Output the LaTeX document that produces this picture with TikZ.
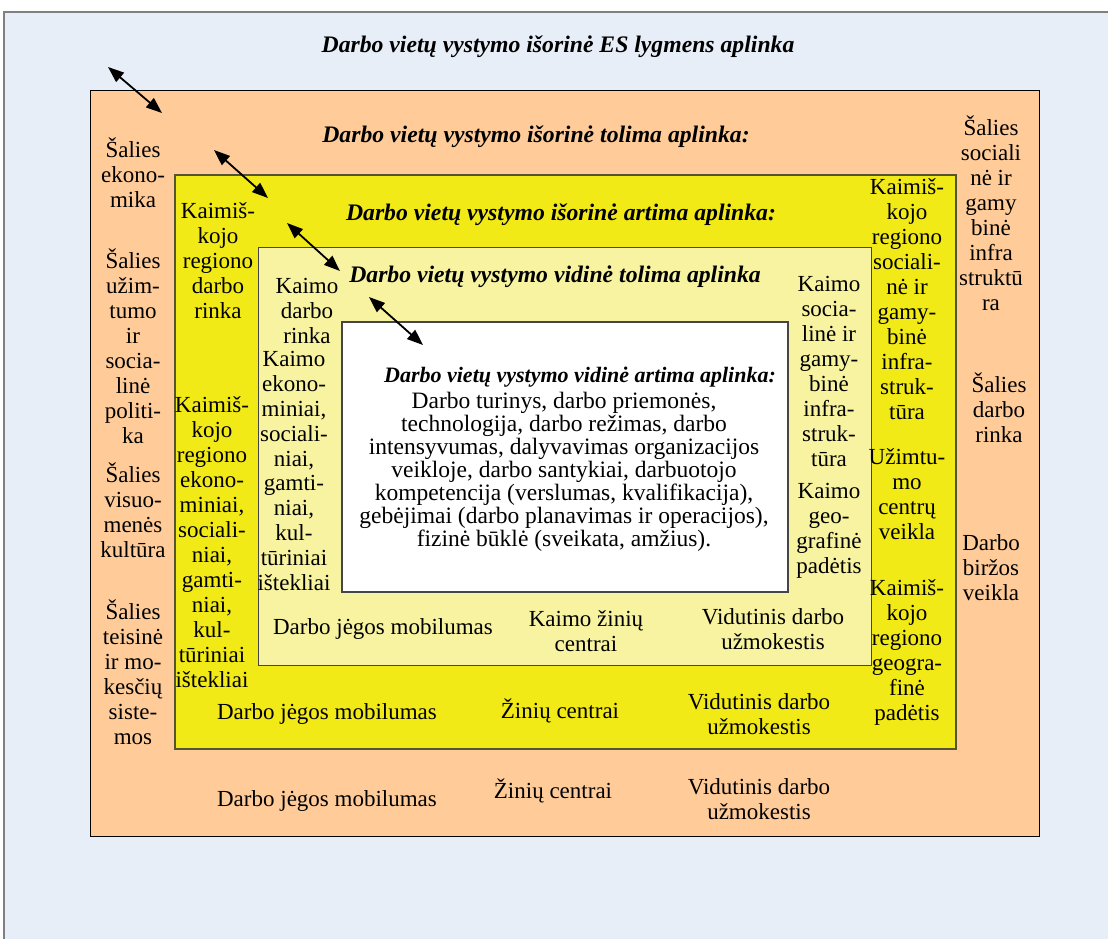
\documentclass[tikz,border=0pt]{standalone}
\usepackage{fontspec}
\setmainfont{Liberation Serif}
\usetikzlibrary{arrows.meta}
\definecolor{bgblue}{RGB}{232,238,247}
\definecolor{peach}{RGB}{255,204,153}
\definecolor{yel}{RGB}{242,234,22}
\definecolor{lyel}{RGB}{248,243,160}
\definecolor{frameg}{RGB}{128,128,128}
\definecolor{edgey}{RGB}{85,85,51}
\definecolor{edgeg}{RGB}{70,70,70}
\begin{document}
\begin{tikzpicture}[x=1pt,y=-1pt,
 txt/.style={align=center,inner sep=0pt,font=\fontsize{23}{25}\selectfont},
 ttl/.style={inner sep=0pt,font=\fontsize{23.7}{25}\selectfont\bfseries\itshape},
 dbl/.style={line width=1.8pt,{Triangle[length=16pt,width=12pt]}-{Triangle[length=16pt,width=12pt]}},
 zone/.style={inner sep=0pt,anchor=north west}]
\useasboundingbox (0,0) rectangle (1108,938);
\clip (0,0) rectangle (1108,938);
\fill[white] (0,0) rectangle (1108,938);
\draw[frameg,line width=2pt,fill=bgblue] (4,12) rectangle (1130,960);
% zones
\node (es) [zone,draw=black,line width=1.2pt,fill=peach,minimum width=949pt,minimum height=746pt] at (90,90) {};
\node (reg) [zone,draw=edgey,line width=1.5pt,fill=yel,minimum width=781pt,minimum height=574pt] at (174,174) {};
\node (kaim) [zone,draw=edgeg,line width=1.2pt,fill=lyel,minimum width=613pt,minimum height=418pt] at (258,247) {};
\node (vid) [zone,draw=edgeg,line width=2pt,fill=white,minimum width=446pt,minimum height=270pt] at (341,321) {};
% titles
\node (t1) [ttl] at (558,47) {Darbo vietų vystymo išorinė ES lygmens aplinka};
\node (t2) [ttl] at (536,137) {Darbo vietų vystymo išorinė tolima aplinka:};
\node (t3) [ttl] at (561,215) {Darbo vietų vystymo išorinė artima aplinka:};
\node (t4) [ttl] at (555,277) {Darbo vietų vystymo vidinė tolima aplinka};
\node (innert) [inner sep=0pt,font=\fontsize{22}{23}\selectfont\bfseries\itshape] at (580,377)
 {Darbo vietų vystymo vidinė artima aplinka:};
\node (inner) [align=center,inner sep=0pt,font=\fontsize{23.5}{23}\selectfont] at (564,472)
 {Darbo turinys, darbo priemonės,\\
 technologija, darbo režimas, darbo\\
 intensyvumas, dalyvavimas organizacijos\\
 veikloje, darbo santykiai, darbuotojo\\
 kompetencija (verslumas, kvalifikacija),\\
 gebėjimai (darbo planavimas ir operacijos),\\
 fizinė būklė (sveikata, amžius).};
% arrows
\coordinate (a1s) at (108,67); \coordinate (a1e) at (162,113);
\coordinate (a2s) at (214,150); \coordinate (a2e) at (268,198);
\coordinate (a3s) at (287,223); \coordinate (a3e) at (340,271);
\coordinate (a4s) at (369,297); \coordinate (a4e) at (423,345);
\draw[dbl] (a1s) -- (a1e);
\draw[dbl] (a2s) -- (a2e);
\draw[dbl] (a3s) -- (a3e);
\draw[dbl] (a4s) -- (a4e);
% orange left column
\node (o1) [txt] at (133,173) {Šalies\\ekono-\\mika};
\node (o2) [txt] at (133,346) {Šalies\\užim-\\tumo\\ir\\socia-\\linė\\politi-\\ka};
\node (o3) [txt] at (133,510) {Šalies\\visuo-\\menės\\kultūra};
\node (o4) [txt] at (133,672) {Šalies\\teisinė\\ir mo-\\kesčių\\siste-\\mos};
% orange right column
\node (o5) [txt] at (991,213) {Šalies\\sociali\\nė ir\\gamy\\binė\\infra\\struktū\\ra};
\node (o6) [txt] at (999,408) {Šalies\\darbo\\rinka};
\node (o7) [txt] at (991,568) {Darbo\\biržos\\veikla};
% yellow left column
\node (y1) [txt] at (218,261) {Kaimiš-\\kojo\\regiono\\darbo\\rinka};
\node (y2) [txt] at (212,542) {Kaimiš-\\kojo\\regiono\\ekono-\\miniai,\\sociali-\\niai,\\gamti-\\niai,\\kul-\\tūriniai\\ištekliai};
% yellow right column
\node (y3) [txt] at (907,299) {Kaimiš-\\kojo\\regiono\\sociali-\\nė ir\\gamy-\\binė\\infra-\\struk-\\tūra};
\node (y4) [txt] at (907,494) {Užimtu-\\mo\\centrų\\veikla};
\node (y5) [txt] at (907,652) {Kaimiš-\\kojo\\regiono\\geogra-\\finė\\padėtis};
% light yellow left column
\node (k1) [txt] at (307,311) {Kaimo\\darbo\\rinka};
\node (k2) [txt,font=\fontsize{23}{24.8}\selectfont] at (294,471) {Kaimo\\ekono-\\miniai,\\sociali-\\niai,\\gamti-\\niai,\\kul-\\tūriniai\\ištekliai};
% light yellow right column
\node (k3) [txt] at (829,371) {Kaimo\\socia-\\linė ir\\gamy-\\binė\\infra-\\struk-\\tūra};
\node (k4) [txt] at (829,531) {Kaimo\\geo-\\grafinė\\padėtis};
% bottom rows
\node (k5) [txt] at (383,629) {Darbo jėgos mobilumas};
\node (k6) [txt] at (586,631) {Kaimo žinių\\centrai};
\node (k7) [txt] at (773,629) {Vidutinis darbo\\užmokestis};
\node (y6) [txt] at (327,714) {Darbo jėgos mobilumas};
\node (y7) [txt] at (560,711) {Žinių centrai};
\node (y8) [txt] at (759,714) {Vidutinis darbo\\užmokestis};
\node (o8) [txt] at (327,801) {Darbo jėgos mobilumas};
\node (o9) [txt] at (553,791) {Žinių centrai};
\node (o10) [txt] at (759,799) {Vidutinis darbo\\užmokestis};
\end{tikzpicture}
\end{document}
